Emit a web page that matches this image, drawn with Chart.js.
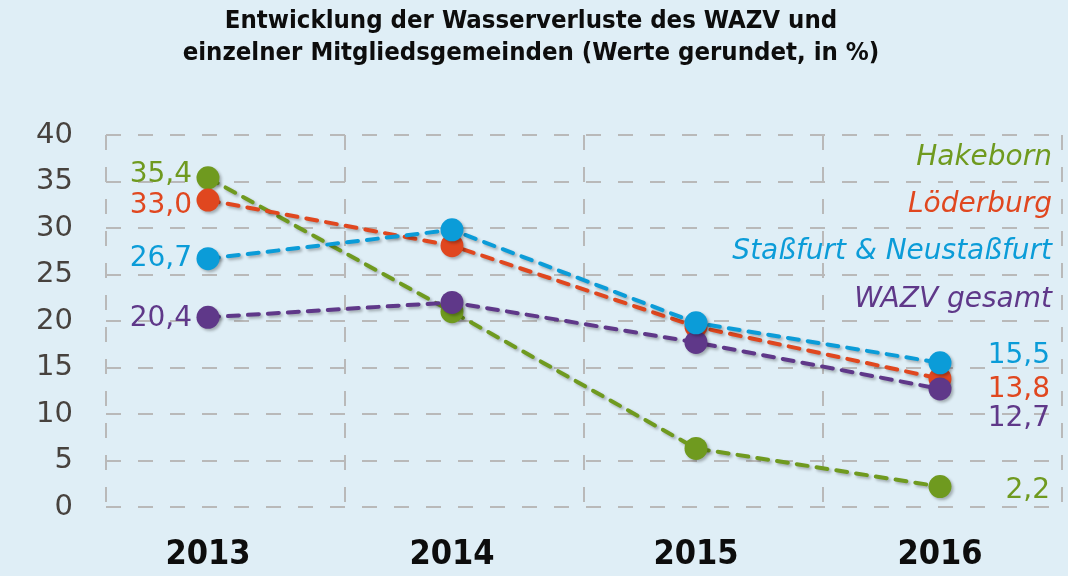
<!DOCTYPE html>
<html lang="de">
<head>
    <meta charset="UTF-8">
    <title>Wasserverluste WAZV</title>
    <script src="https://cdn.jsdelivr.net/npm/chart.js"></script>
    <style>
        html, body {
            margin: 0;
            padding: 0;
            background-color: #dfeef6;
        }
        #wrap {
            width: 1068px;
            height: 576px;
        }
    </style>
</head>
<body>
    <div id="wrap"><canvas id="chart"></canvas></div>

    <script>
        // Daten (Werte gerundet, in %)
        const years = ['2013', '2014', '2015', '2016'];
        const seriesNames = ['Hakeborn', 'Löderburg', 'Staßfurt & Neustaßfurt', 'WAZV gesamt'];
        const hakeborn = [35.4, 21.0, 6.3, 2.2];
        const loederburg = [33.0, 28.1, 19.4, 13.8];
        const stassfurt = [26.7, 29.8, 19.8, 15.5];
        const wazv = [20.4, 22.0, 17.7, 12.7];
        const yTicks = [0, 5, 10, 15, 20, 25, 30, 35, 40];

        const colors = ['#6f9a1f', '#e0471f', '#0b9cd8', '#5f3889'];
        const allSeries = [hakeborn, loederburg, stassfurt, wazv];

        // x-Achse: Jahre als Positionen 0..3, Raster liegt zwischen den Jahren
        const xMin = -0.418, xMax = 3.5;
        const xGrid = [-0.418, 0.561, 1.541, 2.520, 3.5];

        // Beschriftungs-Versatz (Pixel) damit sich die Zahlen nicht überlappen
        const leftOffsets = [-3, 6, 0, 1];
        const rightOffsets = [4, 11, -7, 30];
        const legendValues = [37.6, 32.5, 27.4, 22.3];

        const fmt = v => v.toFixed(1).replace('.', ',');

        const bgPlugin = {
            id: 'bg',
            beforeDraw(chart) {
                const ctx = chart.ctx;
                ctx.save();
                ctx.fillStyle = '#dfeef6';
                ctx.fillRect(0, 0, chart.width, chart.height);
                ctx.restore();
            },
            beforeDatasetsDraw(chart) {
                const ctx = chart.ctx;
                ctx.save();
                ctx.shadowColor = 'rgba(0,0,0,0.28)';
                ctx.shadowBlur = 3;
                ctx.shadowOffsetX = 2;
                ctx.shadowOffsetY = 2;
            },
            afterDatasetsDraw(chart) {
                chart.ctx.restore();
            }
        };

        const labelPlugin = {
            id: 'labels',
            afterDraw(chart) {
                const ctx = chart.ctx;
                const area = chart.chartArea;
                const yScale = chart.scales.y;
                ctx.save();
                ctx.textBaseline = 'middle';

                // Endwerte links und rechts
                ctx.font = '28px "DejaVu Sans"';
                chart.data.datasets.forEach((ds, i) => {
                    const meta = chart.getDatasetMeta(i);
                    const first = meta.data[0];
                    const last = meta.data[meta.data.length - 1];
                    ctx.fillStyle = ds.borderColor;
                    ctx.textAlign = 'right';
                    ctx.fillText(fmt(ds.data[0].y), first.x - 16, first.y + leftOffsets[i]);
                    ctx.fillText(fmt(ds.data[ds.data.length - 1].y), area.right - 12, last.y + rightOffsets[i]);
                });

                // Legende oben rechts
                ctx.font = 'oblique 28px "DejaVu Sans"';
                ctx.textAlign = 'right';
                seriesNames.forEach((name, i) => {
                    ctx.fillStyle = colors[i];
                    ctx.fillText(name, area.right - 10, yScale.getPixelForValue(legendValues[i]));
                });
                ctx.restore();
            }
        };

        const drawOrder = [3, 2, 0, 1];

        new Chart(document.getElementById('chart'), {
            type: 'line',
            data: {
                datasets: allSeries.map((vals, i) => ({
                    label: seriesNames[i],
                    data: vals.map((v, j) => ({ x: j, y: v })),
                    borderColor: colors[i],
                    backgroundColor: colors[i],
                    borderWidth: 4,
                    borderDash: [11, 9],
                    borderCapStyle: 'round',
                    pointRadius: 11.5,
                    pointBorderWidth: 0,
                    pointHoverRadius: 11.5,
                    fill: false,
                    tension: 0,
                    clip: false,
                    order: drawOrder[i]
                }))
            },
            options: {
                responsive: true,
                maintainAspectRatio: false,
                animation: false,
                layout: { autoPadding: false, padding: { top: 0, right: 6, left: 0, bottom: 0 } },
                plugins: {
                    legend: { display: false },
                    tooltip: { enabled: false },
                    title: {
                        display: true,
                        text: ['Entwicklung der Wasserverluste des WAZV und',
                               'einzelner Mitgliedsgemeinden (Werte gerundet, in %)'],
                        color: '#0d0d0d',
                        font: { family: '"DejaVu Sans Condensed", "DejaVu Sans"', size: 25.5, weight: 'bold', lineHeight: 1.255 },
                        padding: { top: 5, bottom: 66 }
                    }
                },
                scales: {
                    x: {
                        type: 'linear',
                        min: xMin,
                        max: xMax,
                        afterBuildTicks: s => { s.ticks = xGrid.map(v => ({ value: v })); },
                        afterFit: s => { s.height = 0; s.paddingRight = 0; s.paddingLeft = 0; },
                        ticks: { display: false },
                        grid: { color: '#b9b9b9', lineWidth: 2, drawTicks: false },
                        border: { display: false, dash: [15, 17] }
                    },
                    x2: {
                        type: 'linear',
                        position: 'bottom',
                        min: xMin,
                        max: xMax,
                        afterBuildTicks: s => { s.ticks = years.map((y, i) => ({ value: i })); },
                        afterFit: s => { s.height = 69; s.paddingRight = 0; s.paddingLeft = 0; },
                        ticks: {
                            callback: v => years[v],
                            color: '#0d0d0d',
                            font: { family: '"DejaVu Sans Condensed", "DejaVu Sans"', size: 34, weight: 'bold' },
                            padding: 28,
                            maxRotation: 0,
                            autoSkip: false
                        },
                        grid: { display: false, drawTicks: false },
                        border: { display: false }
                    },
                    y: {
                        min: 0,
                        max: 40,
                        afterBuildTicks: s => { s.ticks = yTicks.map(v => ({ value: v })); },
                        afterFit: s => { s.width = 106; },
                        ticks: {
                            color: '#47423e',
                            font: { family: '"DejaVu Sans"', size: 29 },
                            padding: 33
                        },
                        grid: { color: '#b9b9b9', lineWidth: 2, drawTicks: false },
                        border: { display: false, dash: [15, 17] }
                    }
                }
            },
            plugins: [bgPlugin, labelPlugin]
        });
    </script>
</body>
</html>
